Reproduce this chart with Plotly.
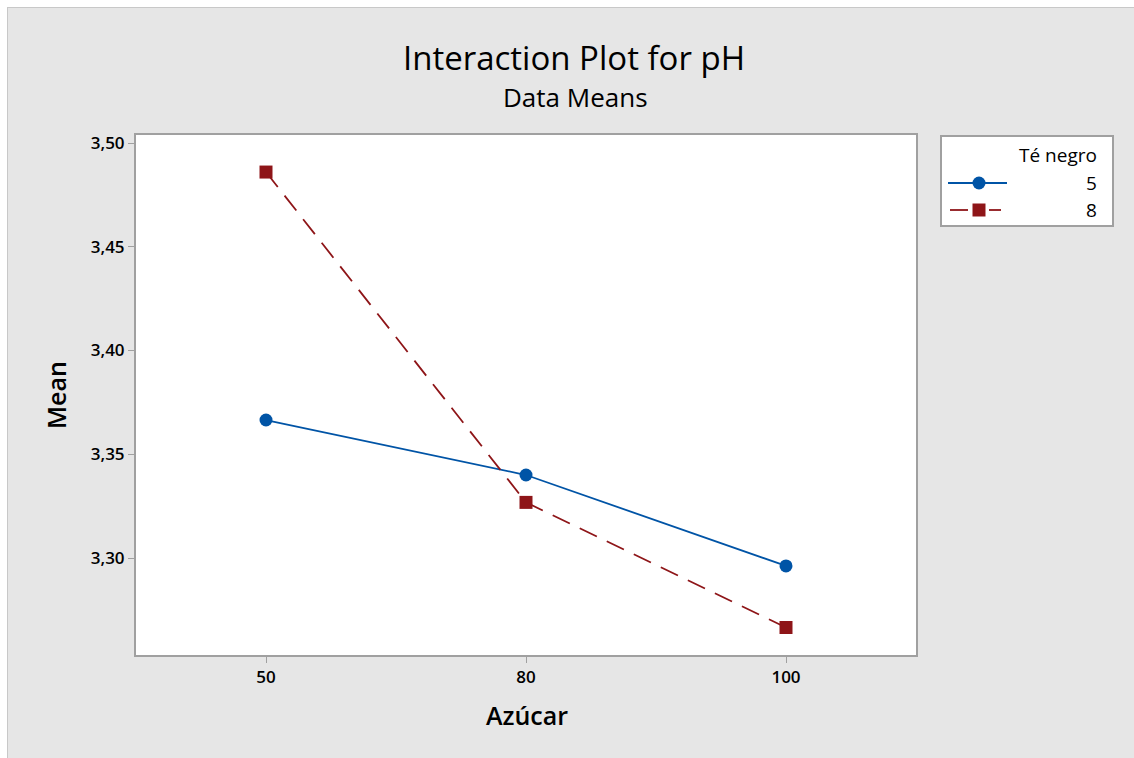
import plotly.graph_objects as go

# ---- data ----
azucar = ["50", "80", "100"]
te_negro_levels = ["5", "8"]
mean_te5 = [3.3665, 3.3400, 3.2962]
mean_te8 = [3.4860, 3.3268, 3.2665]

title_text = "Interaction Plot for pH"
subtitle_text = "Data Means"
x_title = "Azúcar"
y_title = "Mean"
legend_title = "Té negro"
y_ticks = [3.30, 3.35, 3.40, 3.45, 3.50]

BLUE = "#0054A6"
RED = "#8E1518"
GRAY_BG = "#E6E6E6"
AX = "#A0A0A0"
FONT = "Open Sans"
DASH = "19px,11px"

fig = go.Figure()
fig.add_trace(go.Scatter(
    x=azucar, y=mean_te5, mode="lines+markers", name=te_negro_levels[0],
    line=dict(color=BLUE, width=1.8),
    marker=dict(symbol="circle", size=13, color=BLUE),
    showlegend=False))
fig.add_trace(go.Scatter(
    x=azucar, y=mean_te8, mode="lines+markers", name=te_negro_levels[1],
    line=dict(color=RED, width=1.8, dash=DASH),
    marker=dict(symbol="square", size=13, color=RED),
    showlegend=False))

# plot area geometry (px) for paper conversion
L, R, T, B = 136, 916, 135, 655
def px(x): return (x - L) / (R - L)
def py(y): return (B - y) / (B - T)

shapes = []
annotations = []
# outer white frame strips (top/left)
shapes.append(dict(type="rect", xref="paper", yref="paper",
                   x0=px(0), x1=px(1134), y0=py(7), y1=py(0),
                   fillcolor="white", line=dict(width=0), layer="below"))
shapes.append(dict(type="rect", xref="paper", yref="paper",
                   x0=px(0), x1=px(7), y0=py(758), y1=py(0),
                   fillcolor="white", line=dict(width=0), layer="below"))
shapes.append(dict(type="line", xref="paper", yref="paper",
                   x0=px(7), x1=px(1134), y0=py(7.5), y1=py(7.5),
                   line=dict(color="#C8C8C8", width=1)))
shapes.append(dict(type="line", xref="paper", yref="paper",
                   x0=px(7.5), x1=px(7.5), y0=py(758), y1=py(7),
                   line=dict(color="#C8C8C8", width=1)))

# legend box
LEG_FONT = dict(family=FONT, size=19, color="black")
shapes.append(dict(type="rect", xref="paper", yref="paper",
                   x0=px(941), x1=px(1113), y0=py(226), y1=py(136),
                   fillcolor="white", line=dict(color=AX, width=2)))
annotations.append(dict(text=legend_title, xref="paper", yref="paper",
                        x=px(1099), y=py(155), xanchor="right", yanchor="middle",
                        showarrow=False, font=LEG_FONT))
legend_rows = [(te_negro_levels[0], BLUE, "circle", 183),
               (te_negro_levels[1], RED, "square", 210)]
for lab, col, sym, yy in legend_rows:
    if sym == "circle":
        shapes.append(dict(type="line", xref="paper", yref="paper",
                           x0=px(948), x1=px(1007), y0=py(yy), y1=py(yy),
                           line=dict(color=col, width=1.8)))
        shapes.append(dict(type="circle", xref="paper", yref="paper",
                           xsizemode="pixel", ysizemode="pixel",
                           xanchor=px(979), yanchor=py(yy),
                           x0=-6.5, x1=6.5, y0=-6.5, y1=6.5,
                           fillcolor=col, line=dict(color=col, width=0)))
    else:
        for xa, xb in [(950, 968), (989, 1001)]:
            shapes.append(dict(type="line", xref="paper", yref="paper",
                               x0=px(xa), x1=px(xb), y0=py(yy), y1=py(yy),
                               line=dict(color=col, width=1.8)))
        shapes.append(dict(type="rect", xref="paper", yref="paper",
                           xsizemode="pixel", ysizemode="pixel",
                           xanchor=px(979), yanchor=py(yy),
                           x0=-6.5, x1=6.5, y0=-6.5, y1=6.5,
                           fillcolor=col, line=dict(color=col, width=0)))
    annotations.append(dict(text=lab, xref="paper", yref="paper",
                            x=px(1099), y=py(yy), xanchor="right", yanchor="middle",
                            showarrow=False, font=LEG_FONT))

# subtitle and axis titles
annotations.append(dict(text=subtitle_text, xref="paper", yref="paper",
                        x=px(575), y=py(97), xanchor="center", yanchor="middle",
                        showarrow=False, font=dict(family=FONT, size=26, color="black")))
annotations.append(dict(text=y_title, xref="paper", yref="paper",
                        x=px(56), y=py(395), xanchor="center", yanchor="middle",
                        textangle=-90, showarrow=False,
                        font=dict(family=FONT, size=25, color="black", weight=600)))
annotations.append(dict(text=x_title, xref="paper", yref="paper",
                        x=px(527), y=py(715), xanchor="center", yanchor="middle",
                        showarrow=False,
                        font=dict(family=FONT, size=25, color="black", weight=600)))

fig.update_layout(
    width=1134, height=758,
    margin=dict(l=L, r=1134 - R, t=T, b=758 - B, pad=0),
    paper_bgcolor=GRAY_BG, plot_bgcolor="white",
    separators=",.",
    title=dict(text=title_text, x=574 / 1134, xanchor="center",
               y=1 - 58 / 758, yanchor="middle", yref="container",
               font=dict(family=FONT, size=33, color="black")),
    shapes=shapes, annotations=annotations,
    font=dict(family=FONT, color="black"),
)
fig.update_xaxes(type="category", range=[-0.5, 2.5],
                 showline=True, mirror=True, linecolor=AX, linewidth=2,
                 ticks="outside", ticklen=6, tickcolor=AX, tickwidth=1,
                 showgrid=False, zeroline=False,
                 tickfont=dict(family=FONT, size=17, color="black", weight=600))
fig.update_yaxes(range=[3.30 - 97 / 2075, 3.50 + 8 / 2075],
                 tickvals=y_ticks, tickformat=".2f",
                 showline=True, mirror=True, linecolor=AX, linewidth=2,
                 ticks="outside", ticklen=6, tickcolor=AX, tickwidth=1,
                 showgrid=False, zeroline=False,
                 tickfont=dict(family=FONT, size=17, color="black", weight=600))

fig.write_html("out.html")
